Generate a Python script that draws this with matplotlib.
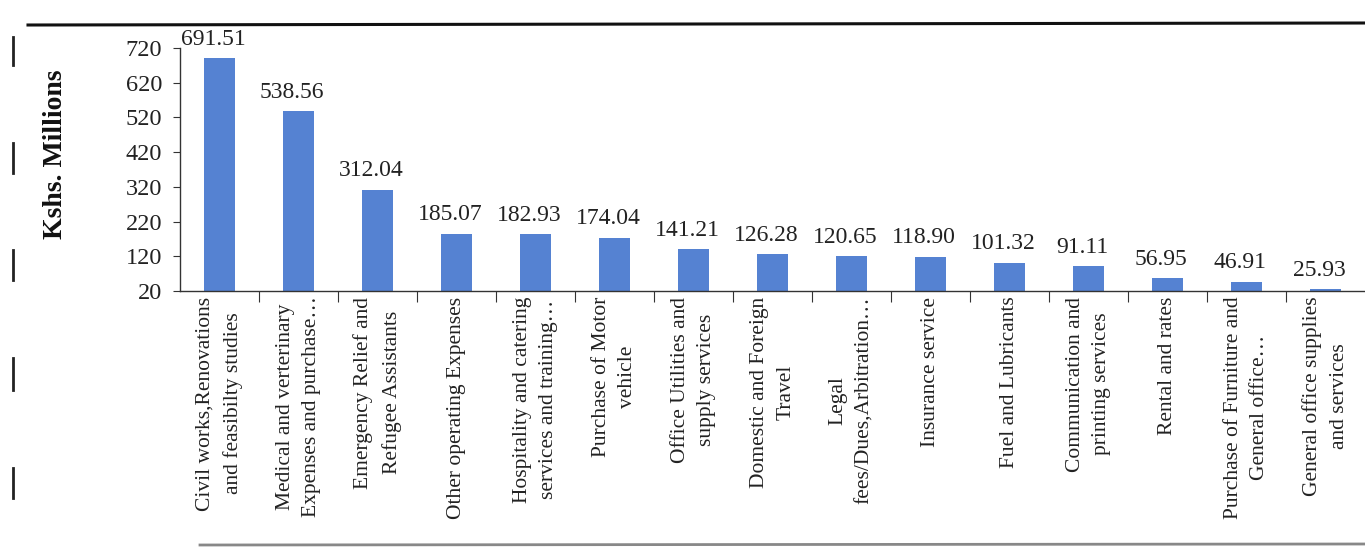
import matplotlib
matplotlib.use("Agg")
import matplotlib.pyplot as plt
from matplotlib.lines import Line2D
import numpy as np

categories = [
    "Civil works,Renovations\nand feasibilty studies",
    "Medical and verterinary\nExpenses and purchase\u2026",
    "Emergency Relief and\nRefugee Assistants",
    "Other operating Expenses",
    "Hospitality and catering\nservices and training\u2026",
    "Purchase of Motor\nvehicle",
    "Office Utilities and\nsupply services",
    "Domestic and Foreign\nTravel",
    "Legal\nfees/Dues,Arbitration\u2026",
    "Insurance service",
    "Fuel and Lubricants",
    "Communication and\nprinting services",
    "Rental and rates",
    "Purchase of Furniture and\nGeneral office\u2026",
    "General office supplies\nand services",
]
values = [691.51, 538.56, 312.04, 185.07, 182.93, 174.04, 141.21, 126.28,
          120.65, 118.90, 101.32, 91.11, 56.95, 46.91, 25.93]
yticks = [20, 120, 220, 320, 420, 520, 620, 720]

plt.rcParams['font.family'] = ['Liberation Serif', 'DejaVu Serif']

fig = plt.figure(figsize=(13.65, 5.48), dpi=100)
ax = fig.add_axes([180/1365, (548-291)/548, 1185/1365, 243/548])

x = np.arange(len(values))
base = yticks[0]
ax.bar(x, [v - base for v in values], bottom=base, width=0.38,
       color='#5582D2', zorder=2)

for xi, v in zip(x, values):
    ax.annotate(f"{v:.2f}", (xi - 0.08, v), xytext=(0, 6), textcoords='offset points',
                ha='center', va='bottom', fontsize=17, color='#222222',
                annotation_clip=False)

ax.set_xlim(-0.5, len(values) - 0.5)
ax.set_ylim(yticks[0], yticks[-1])
ax.set_yticks(yticks)
ax.set_yticklabels([str(t) for t in yticks], fontsize=17.5, color='#222222')
ax.tick_params(axis='y', length=5, width=0.8, color='#333333', pad=8)

ax.set_xticks(x)
ax.set_xticklabels(categories, rotation=90, ha='center', va='top',
                   fontsize=15.5, color='#222222', multialignment='center',
                   linespacing=1.55)
ax.tick_params(axis='x', length=0, pad=4)
ax.set_xticks(np.arange(0.5, len(values) - 0.5, 1.0), minor=True)
ax.tick_params(axis='x', which='minor', length=8, width=0.8, color='#333333')

for s in ['top', 'right']:
    ax.spines[s].set_visible(False)
for s in ['left', 'bottom']:
    ax.spines[s].set_color('#333333')
    ax.spines[s].set_linewidth(1.0)

ax.set_ylabel("Kshs. Millions", fontsize=20, fontweight='bold', color='#111111')
ax.yaxis.set_label_coords((68 - 180) / 1185, (291 - 154) / 243)

# document rule lines
fig.add_artist(Line2D([28/1365, 1.0], [1 - 25/548, 1 - 23/548],
                      color='#111111', linewidth=2.2))
fig.add_artist(Line2D([200/1365, 1.0], [1 - 545/548, 1 - 544/548],
                      color='#888888', linewidth=2.0))
# left margin marks
for y0, y1 in [(37, 65), (143, 173), (250, 280), (358, 390), (468, 498)]:
    fig.add_artist(Line2D([13/1365, 13/1365], [1 - y0/548, 1 - y1/548],
                          color='#222222', linewidth=2.0))

fig.savefig("out.png", dpi=100)
